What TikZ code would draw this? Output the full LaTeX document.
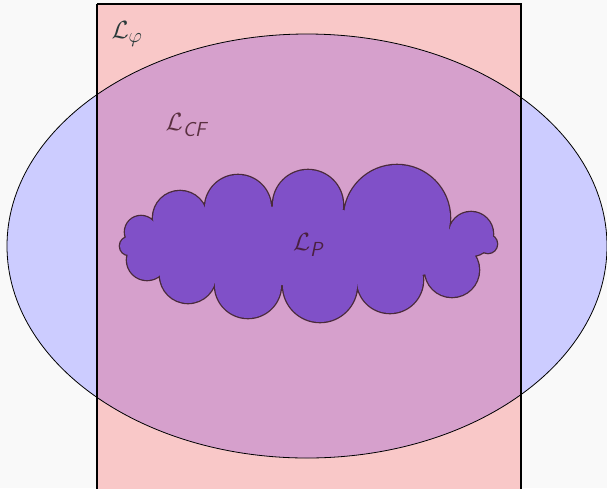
\documentclass[tikz,border=0pt]{standalone}
\usepackage{amsmath}
\definecolor{bg}{HTML}{F9F9F9}
\definecolor{rectpink}{HTML}{F9C8C8}
\definecolor{ellblue}{HTML}{CCCCFF}
\definecolor{overlap}{HTML}{D6A0CC}
\definecolor{cloudfill}{HTML}{8050C8}
\definecolor{cloudline}{HTML}{4A2A3A}
\definecolor{labphi}{HTML}{2A3A3A}
\definecolor{labcf}{HTML}{5A3040}
\definecolor{labp}{HTML}{4A2040}
\tikzset{
  lab/.style={inner sep=0pt, font=\fontsize{29}{33}\selectfont},
}
\newcommand{\cloudcircles}{%
  (141,232) circle[radius=16]
  (180,218) circle[radius=27]
  (238,208) circle[radius=33]
  (308,205) circle[radius=35]
  (397,218) circle[radius=53]
  (471,234) circle[radius=22]
  (488,244) circle[radius=9]
  (452,270) circle[radius=27]
  (390,280) circle[radius=33]
  (320,285) circle[radius=37]
  (248,285) circle[radius=33]
  (188,275) circle[radius=28]
  (147,260) circle[radius=20]
  (129,246) circle[radius=9]
}
\begin{document}
\begin{tikzpicture}[x=1pt,y=-1pt]
\useasboundingbox (0,0) rectangle (607,488);
\fill[bg] (0,0) rectangle (607,488);
\begin{scope}
\clip (0,0) rectangle (607,488);
\fill[rectpink] (97,4) rectangle (521,500);
\fill[ellblue] (307,246) ellipse[x radius=300, y radius=212];
\begin{scope}
\clip (97,4) rectangle (521,500);
\fill[overlap] (307,246) ellipse[x radius=300, y radius=212];
\end{scope}
\draw[black, line width=0.8pt] (307,246) ellipse[x radius=300, y radius=212];
\draw[black, line width=1.5pt] (97,4) -- (521,4) -- (521,500) (97,4) -- (97,500);
% cloud
\draw[cloudline, line width=2.6pt] \cloudcircles;
\fill[cloudfill] \cloudcircles;
\fill[cloudfill] (141,232) -- (180,218) -- (238,208) -- (308,205) -- (397,218) -- (471,234) -- (452,270) -- (390,280) -- (320,285) -- (248,285) -- (188,275) -- (147,260) -- (135,246) -- cycle;
\end{scope}
\node[lab, text=labphi] (lphi) at (127,34) {$\mathcal{L}_{\varphi}$};
\node[lab, text=labcf] (lcf) at (186,125) {$\mathcal{L}_{\textsf{\itshape CF}}$};
\node[lab, text=labp] (lp) at (308,245) {$\mathcal{L}_{\textsf{\itshape P}}$};
\end{tikzpicture}
\end{document}
